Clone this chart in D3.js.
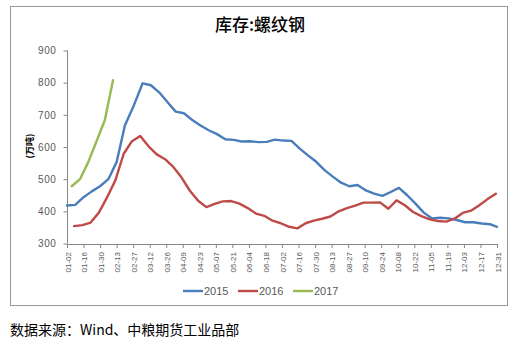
<!DOCTYPE html>
<html>
<head>
<meta charset="utf-8">
<script src="https://cdn.jsdelivr.net/npm/d3@7/dist/d3.min.js"></script>
<style>
  html, body { margin: 0; padding: 0; background: #fff; }
  svg { display: block; }
</style>
</head>
<body>
<svg id="chart" width="523" height="345"></svg>
<script>
// Weekly rebar inventory (万吨), dates as month-day
const dates2015 = ["01-02","01-09","01-16","01-23","01-30","02-06","02-13","02-20","02-27","03-06","03-13","03-20","03-27","04-03","04-10","04-17","04-24","05-01","05-08","05-15","05-22","05-29","06-05","06-12","06-19","06-26","07-03","07-10","07-17","07-24","07-31","08-07","08-14","08-21","08-28","09-04","09-11","09-18","09-25","10-02","10-09","10-16","10-23","10-30","11-06","11-13","11-20","11-27","12-04","12-11","12-18","12-25","12-31"];
const values2015 = [418,420,444,462,478,500,553,667,724,798,792,770,740,710,705,684,667,652,640,624,622,617,618,615,616,623,620,619,595,574,554,528,508,489,478,482,465,455,448,460,473,450,424,396,378,380,378,373,366,366,362,360,352];

const dates2016 = ["01-08","01-15","01-22","01-29","02-05","02-12","02-19","02-26","03-04","03-11","03-18","03-25","04-01","04-08","04-15","04-22","04-29","05-06","05-13","05-20","05-27","06-03","06-10","06-17","06-24","07-01","07-08","07-15","07-22","07-29","08-05","08-12","08-19","08-26","09-02","09-09","09-16","09-23","09-30","10-07","10-14","10-21","10-28","11-04","11-11","11-18","11-25","12-02","12-09","12-16","12-23","12-30"];
const values2016 = [354,357,365,396,444,497,579,618,634,602,577,562,538,505,464,433,413,423,431,432,424,410,393,386,371,363,352,347,363,371,377,384,400,410,418,427,427,428,408,434,419,398,385,375,370,368,377,395,402,419,438,455];

const dates2017 = ["01-06","01-13","01-20","01-27","02-03","02-10"];
const values2017 = [478,500,553,618,683,808];

const xTickLabels = ["01-02","01-16","01-30","02-13","02-27","03-12","03-26","04-09","04-23","05-07","05-21","06-04","06-18","07-02","07-16","07-30","08-13","08-27","09-10","09-24","10-08","10-22","11-05","11-19","12-03","12-17","12-31"];
const yTicks = [300,400,500,600,700,800,900];

const seriesNames = ["2015","2016","2017"];
const seriesColors = ["#4a7ebb","#be4b48","#98b954"];

// all series share one calendar axis (month-day placed on a leap year)
const parseMD = d3.timeParse("%Y-%m-%d");
const toDate = md => parseMD("2016-" + md);

const series = [
  { name: seriesNames[0], color: seriesColors[0], pts: dates2015.map((d, i) => ({ date: toDate(d), v: values2015[i] })) },
  { name: seriesNames[1], color: seriesColors[1], pts: dates2016.map((d, i) => ({ date: toDate(d), v: values2016[i] })) },
  { name: seriesNames[2], color: seriesColors[2], pts: dates2017.map((d, i) => ({ date: toDate(d), v: values2017[i] })) }
];

const svg = d3.select("#chart");
const axisColor = "#868686";
const textColor = "#595959";

// chart frame
svg.append("rect")
  .attr("x", 10.5).attr("y", 6.5)
  .attr("width", 497).attr("height", 299)
  .attr("fill", "#fff")
  .attr("stroke", "#9a9a9a").attr("stroke-width", 1);

// title
svg.append("text")
  .attr("x", 260).attr("y", 31)
  .attr("text-anchor", "middle")
  .attr("font-family", "'Noto Sans CJK SC', sans-serif")
  .attr("font-size", 17)
  .attr("font-weight", 500)
  .attr("fill", "#000")
  .text("库存:螺纹钢");

const x = d3.scaleTime()
  .domain([toDate(xTickLabels[0]), toDate(xTickLabels[xTickLabels.length - 1])])
  .range([67, 497]);
const y = d3.scaleLinear().domain([300, 900]).range([243.5, 50.5]);

// y axis
const yAxis = d3.axisLeft(y)
  .tickValues(yTicks)
  .tickSize(4)
  .tickPadding(7)
  .tickFormat(d3.format("d"));
const gy = svg.append("g").attr("transform", "translate(67.5,0)").call(yAxis);
gy.select(".domain").attr("stroke", axisColor).attr("d", `M-0,${y(900)}V${y(300)}`);
gy.selectAll(".tick line").attr("stroke", axisColor);
gy.selectAll(".tick text")
  .attr("fill", textColor)
  .attr("font-family", "'Liberation Sans', Arial, sans-serif")
  .attr("font-size", 10)
  .attr("letter-spacing", 0.6);

// x axis
const xAxis = d3.axisBottom(x)
  .tickValues(xTickLabels.map(toDate))
  .tickSize(4)
  .tickFormat((d, i) => xTickLabels[i]);
const gx = svg.append("g").attr("transform", "translate(0,244)").call(xAxis);
gx.select(".domain").attr("stroke", axisColor).attr("d", `M${x.range()[0]},0.5H${x.range()[1]}`);
gx.selectAll(".tick line").attr("stroke", axisColor);
gx.selectAll(".tick text")
  .attr("fill", textColor)
  .attr("font-family", "'Liberation Sans', Arial, sans-serif")
  .attr("font-size", 8)
  .attr("text-anchor", "end")
  .attr("dy", null)
  .attr("y", 0)
  .attr("transform", "translate(3,8) rotate(-90)");

// y axis title
svg.append("text")
  .attr("transform", "translate(33,146) rotate(-90)")
  .attr("text-anchor", "middle")
  .attr("font-family", "'Noto Sans CJK SC', sans-serif")
  .attr("font-size", 9)
  .attr("font-weight", "bold")
  .attr("fill", "#000")
  .text("(万吨)");

// series lines
const line = d3.line().x(d => x(d.date)).y(d => y(d.v));
svg.append("g").selectAll("path")
  .data(series)
  .join("path")
  .attr("d", d => line(d.pts))
  .attr("fill", "none")
  .attr("stroke", d => d.color)
  .attr("stroke-width", 2.4)
  .attr("stroke-linejoin", "round")
  .attr("stroke-linecap", "round");

// legend
const legend = svg.append("g").attr("transform", "translate(183,291)");
const item = legend.selectAll("g")
  .data(series)
  .join("g")
  .attr("transform", (d, i) => `translate(${i * 55},0)`);
item.append("line")
  .attr("x1", 0).attr("x2", 20)
  .attr("y1", 0).attr("y2", 0)
  .attr("stroke", d => d.color)
  .attr("stroke-width", 2.4);
item.append("text")
  .attr("x", 21).attr("y", 4)
  .attr("font-family", "'Liberation Sans', Arial, sans-serif")
  .attr("font-size", 11)
  .attr("fill", textColor)
  .text(d => d.name);

// source note
svg.append("text")
  .attr("x", 10).attr("y", 335)
  .attr("font-family", "'Noto Sans CJK SC', sans-serif")
  .attr("font-size", 14)
  .attr("fill", "#000")
  .text("数据来源：Wind、中粮期货工业品部");
</script>
</body>
</html>
